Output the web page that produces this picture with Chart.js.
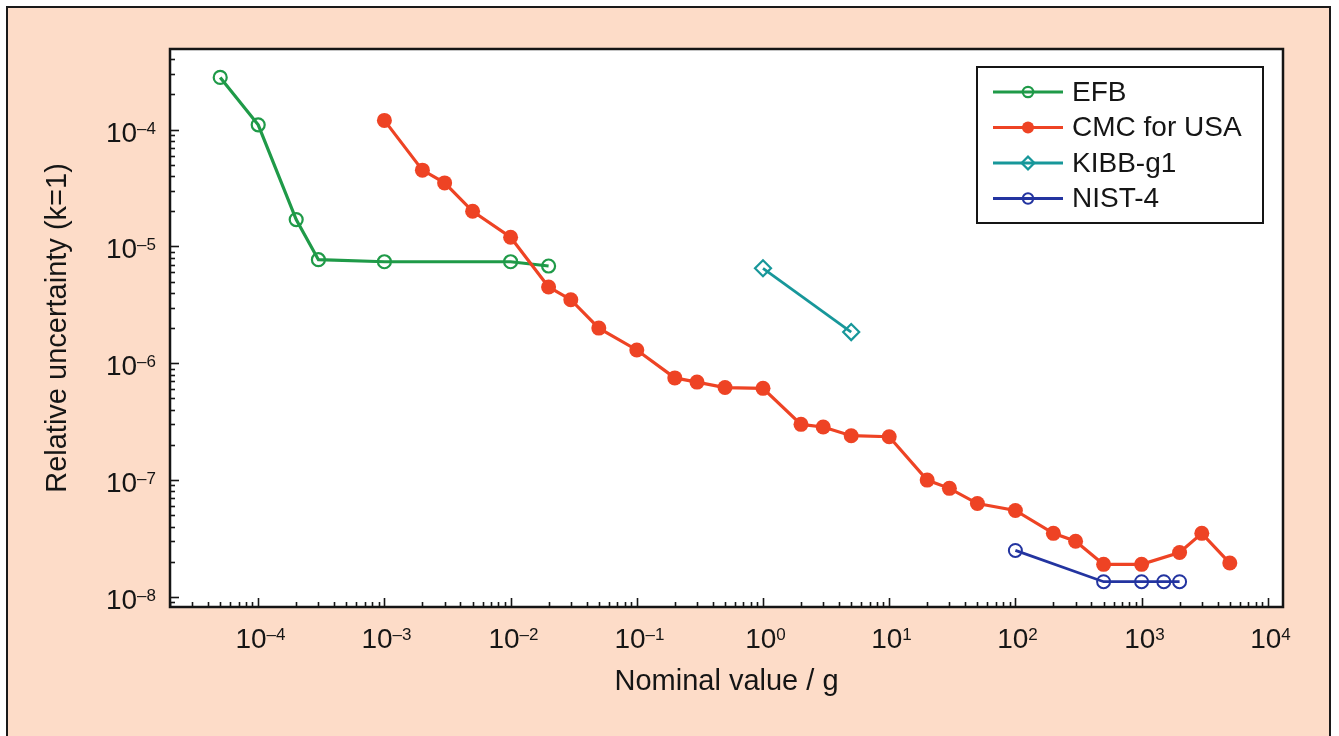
<!DOCTYPE html>
<html>
<head>
<meta charset="utf-8">
<title>Relative uncertainty vs nominal value</title>
<script src="https://cdn.jsdelivr.net/npm/chart.js@4.4.1/dist/chart.umd.min.js"></script>
<style>
  html, body { margin: 0; padding: 0; background: #fff; overflow: hidden; }
  #frame {
    position: absolute; left: 6px; top: 6px; width: 1321px; height: 740px;
    background: #fddcc8; border: 2px solid #1a1a1a; border-bottom: none;
  }
  #chart { position: absolute; left: 0; top: 0; }
</style>
</head>
<body>
<div id="frame"></div>
<canvas id="chart" width="1339" height="736"></canvas>
<script>
// --- data (mass in g, relative uncertainty k=1) ---
const efbMass = [5e-5, 1e-4, 2e-4, 3e-4, 1e-3, 1e-2, 2e-2];
const efbUnc  = [2.8e-4, 1.1e-4, 1.7e-5, 7.7e-6, 7.4e-6, 7.4e-6, 6.8e-6];

const cmcMass = [1e-3, 2e-3, 3e-3, 5e-3, 1e-2, 2e-2, 3e-2, 5e-2, 0.1, 0.2, 0.3, 0.5, 1, 2, 3, 5,
                 10, 20, 30, 50, 100, 200, 300, 500, 1000, 2000, 3000, 5000];
const cmcUnc  = [1.2e-4, 4.5e-5, 3.5e-5, 2.0e-5, 1.2e-5, 4.5e-6, 3.5e-6, 2.0e-6, 1.3e-6, 7.5e-7, 6.9e-7, 6.2e-7,
                 6.1e-7, 3.0e-7, 2.85e-7, 2.4e-7, 2.35e-7, 1.0e-7, 8.5e-8, 6.3e-8, 5.5e-8, 3.5e-8, 3.0e-8,
                 1.9e-8, 1.9e-8, 2.4e-8, 3.5e-8, 1.95e-8];

const kibbMass = [1, 5];
const kibbUnc  = [6.5e-6, 1.85e-6];

const nistMass = [100, 500, 1000, 1500, 2000];
const nistUnc  = [2.5e-8, 1.35e-8, 1.35e-8, 1.35e-8, 1.35e-8];

const seriesLabels = ['EFB', 'CMC for USA', 'KIBB-g1', 'NIST-4'];

const xMin = 2e-5, xMax = 1.32e4;
const yMin = 8.2e-9, yMax = 4.9e-4;

const FONT = "'Liberation Sans', Arial, Helvetica, sans-serif";

function toPoints(xs, ys) {
    return xs.map((x, i) => ({ x: x, y: ys[i] }));
}

// every 1..9 x 10^n value inside the scale range
function logTickValues(scale) {
    const out = [];
    const e0 = Math.floor(Math.log10(scale.min));
    const e1 = Math.ceil(Math.log10(scale.max));
    for (let e = e0; e <= e1; e++) {
        for (let m = 1; m <= 9; m++) {
            const v = m * Math.pow(10, e);
            if (v >= scale.min * 0.999999 && v <= scale.max) out.push({ v: v, e: e, major: m === 1 });
        }
    }
    return out;
}

// "10" with a raised exponent; align = 'center' or 'right'
function drawPower(ctx, e, x, baseline, align) {
    const base = '10';
    const exp = e < 0 ? '\u2013' + Math.abs(e) : String(e);
    ctx.font = '28px ' + FONT;
    const wb = ctx.measureText(base).width;
    ctx.font = '17px ' + FONT;
    const we = ctx.measureText(exp).width;
    const w = wb + we;
    const left = align === 'right' ? x - w : x - w / 2;
    ctx.textAlign = 'left';
    ctx.textBaseline = 'alphabetic';
    ctx.font = '28px ' + FONT;
    ctx.fillText(base, left, baseline);
    ctx.font = '17px ' + FONT;
    ctx.fillText(exp, left + wb, baseline - 8);
}

// white plot area, inward ticks, tick labels, box frame and the boxed legend
const plotFrame = {
    id: 'plotFrame',
    beforeDraw(chart) {
        const { ctx, chartArea: a } = chart;
        ctx.save();
        ctx.fillStyle = '#fff';
        ctx.fillRect(a.left, a.top, a.width, a.height);
        ctx.restore();
    },
    afterDraw(chart) {
        const { ctx, chartArea: a, scales } = chart;
        ctx.save();
        ctx.strokeStyle = '#151515';
        ctx.fillStyle = '#151515';
        ctx.lineWidth = 1.6;

        logTickValues(scales.x).forEach(t => {
            const px = Math.round(scales.x.getPixelForValue(t.v)) + 0.5;
            ctx.beginPath();
            ctx.moveTo(px, a.bottom);
            ctx.lineTo(px, a.bottom - (t.major ? 9 : 5));
            ctx.stroke();
            if (t.major) drawPower(ctx, t.e, px + 2, a.bottom + 41, 'center');
        });
        logTickValues(scales.y).forEach(t => {
            const py = Math.round(scales.y.getPixelForValue(t.v)) + 0.5;
            ctx.beginPath();
            ctx.moveTo(a.left, py);
            ctx.lineTo(a.left + (t.major ? 9 : 5), py);
            ctx.stroke();
            if (t.major) drawPower(ctx, t.e, a.left - 14, py + 11, 'right');
        });

        ctx.lineWidth = 2.5;
        ctx.strokeRect(a.left, a.top, a.width, a.height);

        // Legend box (top right, inside plot)
        const boxL = a.right - 306, boxT = a.top + 18, boxW = 286, boxH = 156;
        ctx.fillStyle = '#fff';
        ctx.fillRect(boxL, boxT, boxW, boxH);
        ctx.lineWidth = 2;
        ctx.strokeRect(boxL, boxT, boxW, boxH);

        ctx.font = '28px ' + FONT;
        ctx.textBaseline = 'middle';
        ctx.textAlign = 'left';
        chart.data.datasets.forEach((ds, i) => {
            const y = boxT + 25 + i * 35.5;
            const x0 = boxL + 16, x1 = boxL + 86;
            ctx.strokeStyle = ds.borderColor;
            ctx.lineWidth = ds.borderWidth;
            ctx.beginPath();
            ctx.moveTo(x0, y);
            ctx.lineTo(x1, y);
            ctx.stroke();
            ctx.fillStyle = ds.pointBackgroundColor;
            ctx.strokeStyle = ds.pointBorderColor;
            ctx.lineWidth = ds.pointBorderWidth;
            Chart.helpers.drawPoint(ctx, {
                pointStyle: ds.pointStyle,
                radius: ds.pointRadius * 0.8,
                rotation: 0,
                borderWidth: ds.pointBorderWidth
            }, (x0 + x1) / 2, y);
            ctx.fillStyle = '#151515';
            ctx.fillText(ds.label, boxL + 95, y + 1);
        });
        ctx.restore();
    }
};

Chart.defaults.font.family = FONT;
Chart.defaults.color = '#151515';

const green = '#1f9a48';
const red = '#ee4324';
const teal = '#17979a';
const blue = '#2334a0';

new Chart(document.getElementById('chart'), {
    type: 'line',
    data: {
        datasets: [
            {
                label: seriesLabels[0],
                data: toPoints(efbMass, efbUnc),
                borderColor: green, borderWidth: 3.2,
                pointStyle: 'circle', pointRadius: 6.5,
                pointBackgroundColor: 'rgba(0,0,0,0)', pointBorderColor: green, pointBorderWidth: 2.2,
                order: 2
            },
            {
                label: seriesLabels[1],
                data: toPoints(cmcMass, cmcUnc),
                borderColor: red, borderWidth: 3.2,
                pointStyle: 'circle', pointRadius: 7.5,
                pointBackgroundColor: red, pointBorderColor: red, pointBorderWidth: 0,
                order: 1
            },
            {
                label: seriesLabels[2],
                data: toPoints(kibbMass, kibbUnc),
                borderColor: teal, borderWidth: 2.8,
                pointStyle: 'rectRot', pointRadius: 8,
                pointBackgroundColor: 'rgba(0,0,0,0)', pointBorderColor: teal, pointBorderWidth: 2.2,
                order: 3
            },
            {
                label: seriesLabels[3],
                data: toPoints(nistMass, nistUnc),
                borderColor: blue, borderWidth: 2.8,
                pointStyle: 'circle', pointRadius: 6.5,
                pointBackgroundColor: 'rgba(0,0,0,0)', pointBorderColor: blue, pointBorderWidth: 2,
                order: 4
            }
        ]
    },
    options: {
        responsive: false,
        devicePixelRatio: 1,
        animation: false,
        layout: { padding: { left: 0, top: 49, right: 56, bottom: 0 } },
        elements: { line: { tension: 0, fill: false } },
        plugins: {
            legend: { display: false },
            tooltip: { enabled: false }
        },
        scales: {
            x: {
                type: 'logarithmic',
                min: xMin, max: xMax,
                grid: { display: false },
                border: { display: false },
                ticks: { display: false },
                title: {
                    display: true, text: 'Nominal value / g',
                    font: { size: 29 },
                    padding: { top: 0, bottom: 37 }
                },
                afterFit: s => { s.height = 129; }
            },
            y: {
                type: 'logarithmic',
                min: yMin, max: yMax,
                grid: { display: false },
                border: { display: false },
                ticks: { display: false },
                title: {
                    display: true, text: 'Relative uncertainty (k=1)',
                    font: { size: 29 },
                    padding: { top: 41, bottom: 0 }
                },
                afterFit: s => { s.width = 170; }
            }
        }
    },
    plugins: [plotFrame]
});
</script>
</body>
</html>
